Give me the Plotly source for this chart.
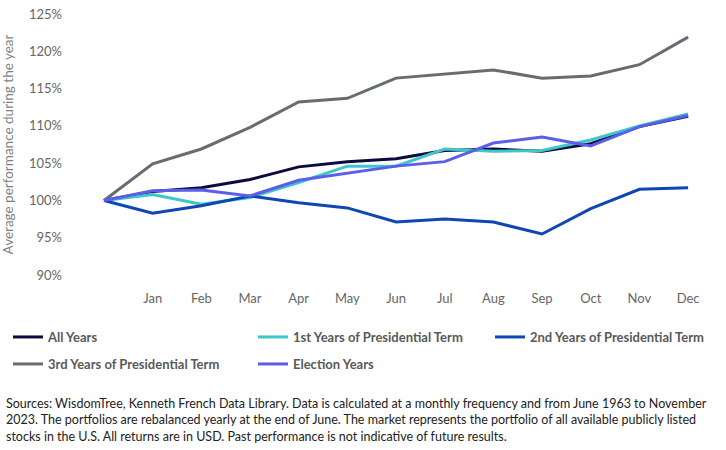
import plotly.graph_objects as go

months = ["", "Jan", "Feb", "Mar", "Apr", "May", "Jun", "Jul", "Aug", "Sep", "Oct", "Nov", "Dec"]

all_years = [100, 101.2, 101.7, 102.8, 104.5, 105.2, 105.6, 106.7, 106.9, 106.6, 107.6, 109.9, 111.3]
first_years = [100, 100.8, 99.5, 100.4, 102.4, 104.6, 104.6, 106.9, 106.6, 106.7, 108.1, 110.0, 111.6]
second_years = [100, 98.3, 99.3, 100.6, 99.7, 99.0, 97.1, 97.5, 97.1, 95.5, 98.9, 101.5, 101.7]
third_years = [100, 104.9, 106.9, 109.8, 113.2, 113.7, 116.4, 117.0, 117.5, 116.4, 116.7, 118.2, 121.9]
election_years = [100, 101.3, 101.4, 100.6, 102.7, 103.6, 104.6, 105.2, 107.7, 108.5, 107.3, 109.9, 111.4]

names = ["All Years", "1st Years of Presidential Term", "2nd Years of Presidential Term",
         "3rd Years of Presidential Term", "Election Years"]
series = [all_years, first_years, second_years, third_years, election_years]
colors = ["#0b0b3d", "#3ec6c9", "#0f47b2", "#676c72", "#5a5ee8"]
legends = ["legend", "legend", "legend3", "legend2", "legend2"]

y_ticks = [90, 95, 100, 105, 110, 115, 120, 125]
y_tick_text = [f"{v}%" for v in y_ticks]

footnote = ("Sources: WisdomTree, Kenneth French Data Library. Data is calculated at a monthly frequency and from June 1963 to November<br>"
            "2023. The portfolios are rebalanced yearly at the end of June. The market represents the portfolio of all available publicly listed<br>"
            "stocks in the U.S. All returns are in USD. Past performance is not indicative of future results.")

x_idx = list(range(len(months)))

fig = go.Figure()
for name, vals, col, lg in zip(names, series, colors, legends):
    fig.add_trace(go.Scatter(x=x_idx, y=vals, mode="lines", name=name,
                             line=dict(color=col, width=3), legend=lg))

W, H = 726, 450
L, R, T, B = 80, 16, 14, 175
pw = W - L - R
ph = H - T - B

def px_x(p):
    return (p - L) / pw

def px_y(p):
    return (H - B - p) / ph

legend_font = dict(family="Lato", size=13, color="#595959", weight="bold")

def leg(xp, yp):
    return dict(orientation="h", x=px_x(xp), xanchor="left", y=px_y(yp), yanchor="top",
                entrywidth=200, entrywidthmode="pixels", font=legend_font,
                bgcolor="rgba(0,0,0,0)", traceorder="normal")

fig.update_layout(
    width=W, height=H,
    margin=dict(l=L, r=R, t=T, b=B, autoexpand=False),
    paper_bgcolor="white", plot_bgcolor="white",
    font=dict(family="Lato", color="#666666", size=13),
    showlegend=True,
    xaxis=dict(range=[-0.493, 12.45], tickmode="array", tickvals=x_idx[1:], ticktext=months[1:],
               showgrid=False, zeroline=False, showline=False, ticks="",
               ticklabelstandoff=14, tickfont=dict(size=13, color="#666666")),
    yaxis=dict(range=[90, 125], tickmode="array", tickvals=y_ticks, ticktext=y_tick_text,
               showgrid=False, zeroline=False, showline=False, ticks="",
               ticklabelstandoff=17, tickfont=dict(size=13, color="#666666"),
               title=dict(text="Average performance during the year", standoff=13,
                          font=dict(size=13.5, color="#7f7f7f"))),
    legend=leg(8, 322),
    legend2=leg(8, 349),
    legend3=leg(490, 322),
    annotations=[dict(text=footnote, xref="paper", yref="paper", x=px_x(4), y=px_y(394),
                      xanchor="left", yanchor="top", align="left", showarrow=False,
                      font=dict(family="Lato", size=12.5, color="#222222"))],
)

fig.write_html("out.html")
